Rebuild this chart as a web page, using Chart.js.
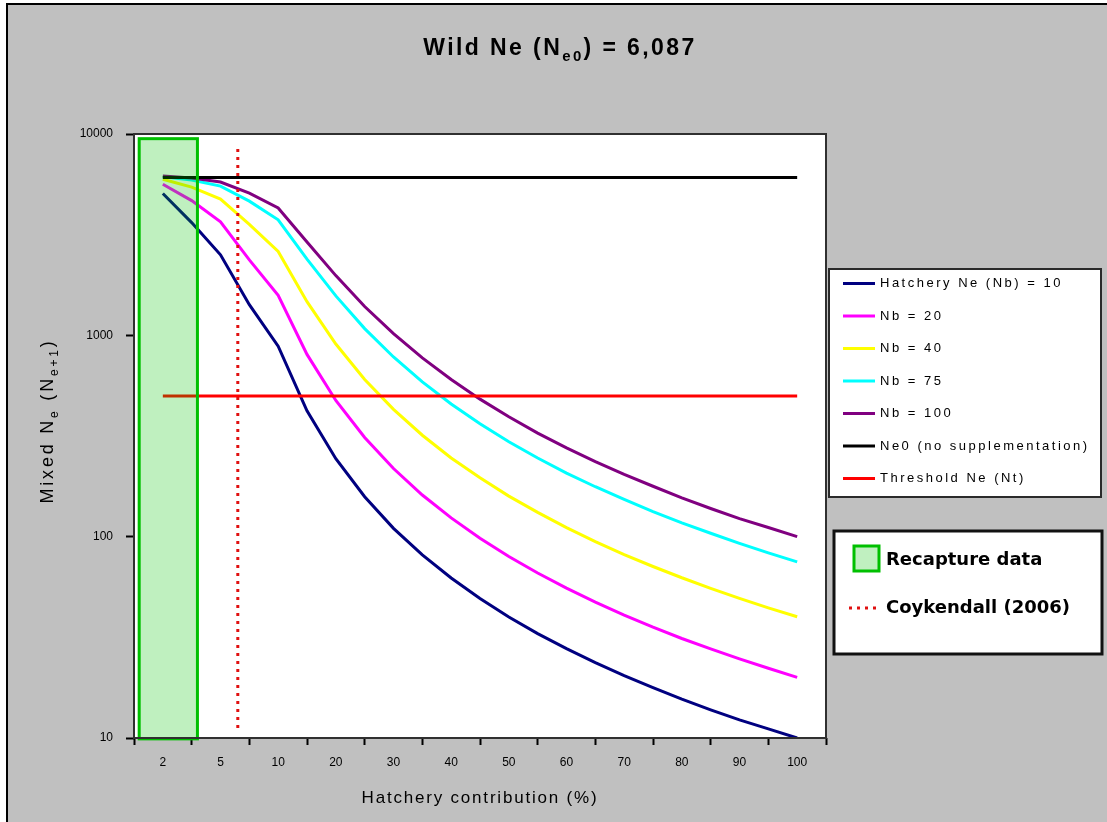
<!DOCTYPE html>
<html>
<head>
<meta charset="utf-8">
<title>Wild Ne (Ne0) = 6,087</title>
<script src="https://cdn.jsdelivr.net/npm/chart.js@4.4.1/dist/chart.umd.min.js"></script>
<style>
  html, body { margin: 0; padding: 0; background: #fff; }
  #wrap { width: 1107px; height: 822px; }
</style>
</head>
<body>
<div id="wrap"><canvas id="neChart" width="1107" height="822"></canvas></div>
<script>
// x axis categories (hatchery contribution, %)
const categories = ['2', '5', '10', '20', '30', '40', '50', '60', '70', '80', '90', '100'];
const yTicks = [10, 100, 1000, 10000];

const hatcheryPct = [2, 3.5, 5, 7.5, 10, 15, 20, 25, 30, 35, 40, 45, 50, 55, 60, 65, 70, 75, 80, 85, 90, 95, 100];

// mixed Ne for each hatchery Nb
const nb10  = [5060, 3630, 2510, 1420, 883, 422, 244, 158, 110, 81.2, 62.3, 49.3, 39.9, 33.0, 27.8, 23.7, 20.4, 17.8, 15.6, 13.8, 12.3, 11.1, 10];
const nb20  = [5630, 4670, 3660, 2370, 1580, 804, 475, 311, 218, 161, 124, 98.3, 79.7, 66.0, 55.5, 47.3, 40.8, 35.5, 31.2, 27.7, 24.7, 22.2, 20];
const nb40  = [5960, 5450, 4750, 3560, 2610, 1470, 905, 604, 429, 319, 246, 196, 159, 132, 111, 94.5, 81.5, 71.1, 62.5, 55.4, 49.4, 44.3, 40];
const nb75  = [6130, 5910, 5510, 4640, 3750, 2390, 1570, 1080, 781, 587, 456, 364, 296, 246, 207, 177, 153, 133, 117, 104, 92.6, 83.1, 75];
const nb100 = [6180, 6050, 5770, 5080, 4290, 2910, 1980, 1390, 1020, 773, 603, 482, 394, 327, 276, 236, 204, 178, 156, 138, 123, 111, 100];

const wildNe = 6087;       // Ne0, no supplementation
const thresholdNe = 500;   // Nt

// Coykendall (2006) marker and recapture-data band
const coykendallPct = 6.5;
const coykendallSpan = [11.2, 8600];
const recaptureSpan = [-0.41, 0.6];   // in category units
const recaptureNe = [9.9, 9480];

// Excel-style category axis: each category gets equal width,
// so a percentage is placed between its two neighbouring categories
const catValues = categories.map(Number);
function pctToPos(p) {
  for (let i = 0; i < catValues.length - 1; i++) {
    if (p <= catValues[i + 1]) {
      return i + (p - catValues[i]) / (catValues[i + 1] - catValues[i]);
    }
  }
  return catValues.length - 1;
}
const toPoints = vals => vals.map((v, i) => ({ x: pctToPos(hatcheryPct[i]), y: v }));

const lastPos = categories.length - 1;

const lineSet = (label, data, color, order) => ({
  label, data, borderColor: color, backgroundColor: color,
  borderWidth: 3, pointRadius: 0, tension: 0, order
});

const datasets = [
  lineSet('Hatchery Ne (Nb) = 10', toPoints(nb10), '#000080', -1),
  lineSet('Nb = 20', toPoints(nb20), '#ff00ff', -2),
  lineSet('Nb = 40', toPoints(nb40), '#ffff00', -3),
  lineSet('Nb = 75', toPoints(nb75), '#00ffff', -4),
  lineSet('Nb = 100', toPoints(nb100), '#800080', -5),
  lineSet('Ne0 (no supplementation)', [{ x: 0, y: wildNe }, { x: lastPos, y: wildNe }], '#000000', -6),
  lineSet('Threshold Ne (Nt)', [{ x: 0, y: thresholdNe }, { x: lastPos, y: thresholdNe }], '#ff0000', -7),
  Object.assign(lineSet('Coykendall (2006)', [
    { x: pctToPos(coykendallPct), y: coykendallSpan[0] },
    { x: pctToPos(coykendallPct), y: coykendallSpan[1] }
  ], '#e01010', -8), { borderDash: [3, 5], borderCapStyle: 'butt' })
];

const SANS = '"Liberation Sans", Arial, sans-serif';

// draw text made of normal and subscript pieces, centred on x
function richWidth(ctx, parts, size, family, weight, spacing) {
  let w = 0;
  parts.forEach(p => {
    ctx.font = `${weight} ${p.sub ? Math.round(size * 0.65) : size}px ${family}`;
    ctx.letterSpacing = spacing + 'px';
    w += ctx.measureText(p.t).width;
  });
  return w;
}
function drawRich(ctx, parts, x, y, size, family, weight, spacing) {
  const w = richWidth(ctx, parts, size, family, weight, spacing);
  let cx = x - w / 2;
  ctx.textAlign = 'left';
  ctx.textBaseline = 'alphabetic';
  parts.forEach(p => {
    ctx.font = `${weight} ${p.sub ? Math.round(size * 0.65) : size}px ${family}`;
    ctx.letterSpacing = spacing + 'px';
    ctx.fillText(p.t, cx, p.sub ? y + size * 0.25 : y);
    cx += ctx.measureText(p.t).width;
  });
}

const decor = {
  id: 'decor',
  beforeDraw(chart) {
    const { ctx, chartArea: a, width, height } = chart;
    ctx.save();
    ctx.fillStyle = '#ffffff';
    ctx.fillRect(0, 0, width, height);
    ctx.fillStyle = '#c0c0c0';
    ctx.fillRect(8, 5, width - 8, height - 5);
    ctx.fillStyle = '#000000';
    ctx.fillRect(6, 3, 2, height - 3);
    ctx.fillRect(6, 3, width - 6, 2);
    ctx.fillStyle = '#ffffff';
    ctx.fillRect(a.left, a.top, a.right - a.left, a.bottom - a.top);
    ctx.restore();
  },
  afterDatasetsDraw(chart) {
    // recapture band sits on top of the lines, half see-through
    const { ctx, scales: { x, y } } = chart;
    const x0 = x.getPixelForValue(recaptureSpan[0]);
    const x1 = x.getPixelForValue(recaptureSpan[1]);
    const y0 = y.getPixelForValue(recaptureNe[1]);
    const y1 = y.getPixelForValue(recaptureNe[0]);
    ctx.save();
    ctx.fillStyle = 'rgba(0, 194, 0, 0.25)';
    ctx.fillRect(x0, y0, x1 - x0, y1 - y0);
    ctx.strokeStyle = '#00c000';
    ctx.lineWidth = 3;
    ctx.strokeRect(x0, y0, x1 - x0, y1 - y0);
    ctx.restore();
  },
  afterDraw(chart) {
    const { ctx, chartArea: a } = chart;
    ctx.save();
    // plot area frame
    ctx.strokeStyle = '#303030';
    ctx.lineWidth = 2;
    ctx.strokeRect(a.left, a.top, a.right - a.left, a.bottom - a.top);

    ctx.fillStyle = '#000';
    // chart title
    drawRich(ctx, [{ t: 'Wild Ne (N' }, { t: 'e0', sub: true }, { t: ') = 6,087' }],
      560, 55, 23, SANS, 'bold', 2.4);
    // x axis title
    drawRich(ctx, [{ t: 'Hatchery contribution (%)' }],
      (a.left + a.right) / 2, 803, 17, SANS, 'normal', 1.8);
    // y axis title
    ctx.save();
    ctx.translate(53, 421);
    ctx.rotate(-Math.PI / 2);
    drawRich(ctx, [{ t: 'Mixed N' }, { t: 'e', sub: true }, { t: ' (N' }, { t: 'e+1', sub: true }, { t: ')' }],
      0, 0, 18, SANS, 'normal', 2.8);
    ctx.restore();

    // series legend
    const sets = chart.data.datasets.slice(0, 7);
    ctx.fillStyle = '#fff';
    ctx.fillRect(829, 269, 272, 228);
    ctx.strokeStyle = '#2a2a2a';
    ctx.lineWidth = 2;
    ctx.strokeRect(829, 269, 272, 228);
    ctx.font = '13px ' + SANS;
    ctx.letterSpacing = '2.5px';
    ctx.textAlign = 'left';
    ctx.textBaseline = 'middle';
    sets.forEach((ds, i) => {
      const yy = 283.5 + i * 32.5;
      ctx.strokeStyle = ds.borderColor;
      ctx.lineWidth = 3;
      ctx.beginPath();
      ctx.moveTo(843, yy);
      ctx.lineTo(875, yy);
      ctx.stroke();
      ctx.fillStyle = '#000';
      ctx.fillText(ds.label, 880, yy);
    });

    // marker legend
    ctx.letterSpacing = '0px';
    ctx.fillStyle = '#fff';
    ctx.fillRect(834, 531, 268, 123);
    ctx.strokeStyle = '#111';
    ctx.lineWidth = 3;
    ctx.strokeRect(834, 531, 268, 123);
    ctx.fillStyle = '#c0f0c0';
    ctx.fillRect(854, 546, 25, 25);
    ctx.strokeStyle = '#00c000';
    ctx.lineWidth = 3;
    ctx.strokeRect(854, 546, 25, 25);
    const coy = chart.data.datasets[7];
    ctx.strokeStyle = coy.borderColor;
    ctx.setLineDash(coy.borderDash);
    ctx.beginPath();
    ctx.moveTo(849, 608);
    ctx.lineTo(879, 608);
    ctx.stroke();
    ctx.setLineDash([]);
    ctx.fillStyle = '#000';
    ctx.font = 'bold 18px "DejaVu Sans", sans-serif';
    ctx.fillText('Recapture data', 886, 560);
    ctx.fillText(coy.label, 886, 608);
    ctx.restore();
  }
};

Chart.defaults.font.family = SANS;
Chart.defaults.color = '#000';

new Chart(document.getElementById('neChart'), {
  type: 'line',
  data: { datasets },
  plugins: [decor],
  options: {
    responsive: false,
    animation: false,
    layout: { padding: { left: 0, top: 134, right: 281, bottom: 0 } },
    plugins: {
      legend: { display: false },
      title: { display: false },
      tooltip: { enabled: false }
    },
    scales: {
      x: {
        type: 'linear',
        min: -0.5,
        max: categories.length - 0.5,
        afterBuildTicks: axis => {
          const t = [];
          for (let v = -0.5; v <= categories.length - 0.5; v += 0.5) t.push({ value: v });
          axis.ticks = t;
        },
        afterFit: s => { s.height = 84; },
        border: { display: false },
        grid: {
          drawOnChartArea: false,
          tickLength: 7,
          tickWidth: 2,
          tickColor: c => (c.tick && Number.isInteger(c.tick.value)) ? 'rgba(0,0,0,0)' : '#000'
        },
        ticks: {
          autoSkip: false,
          maxRotation: 0,
          padding: 10,
          font: { size: 12 },
          callback: v => Number.isInteger(v) ? categories[v] : ''
        }
      },
      y: {
        type: 'logarithmic',
        min: yTicks[0],
        max: yTicks[yTicks.length - 1],
        afterBuildTicks: axis => { axis.ticks = yTicks.map(v => ({ value: v })); },
        afterFit: s => { s.width = 134; },
        border: { display: false },
        grid: { drawOnChartArea: false, tickLength: 8, tickWidth: 2, tickColor: '#000' },
        ticks: {
          padding: 13,
          font: { size: 12 },
          callback: v => String(v)
        }
      }
    }
  }
});
</script>
</body>
</html>
